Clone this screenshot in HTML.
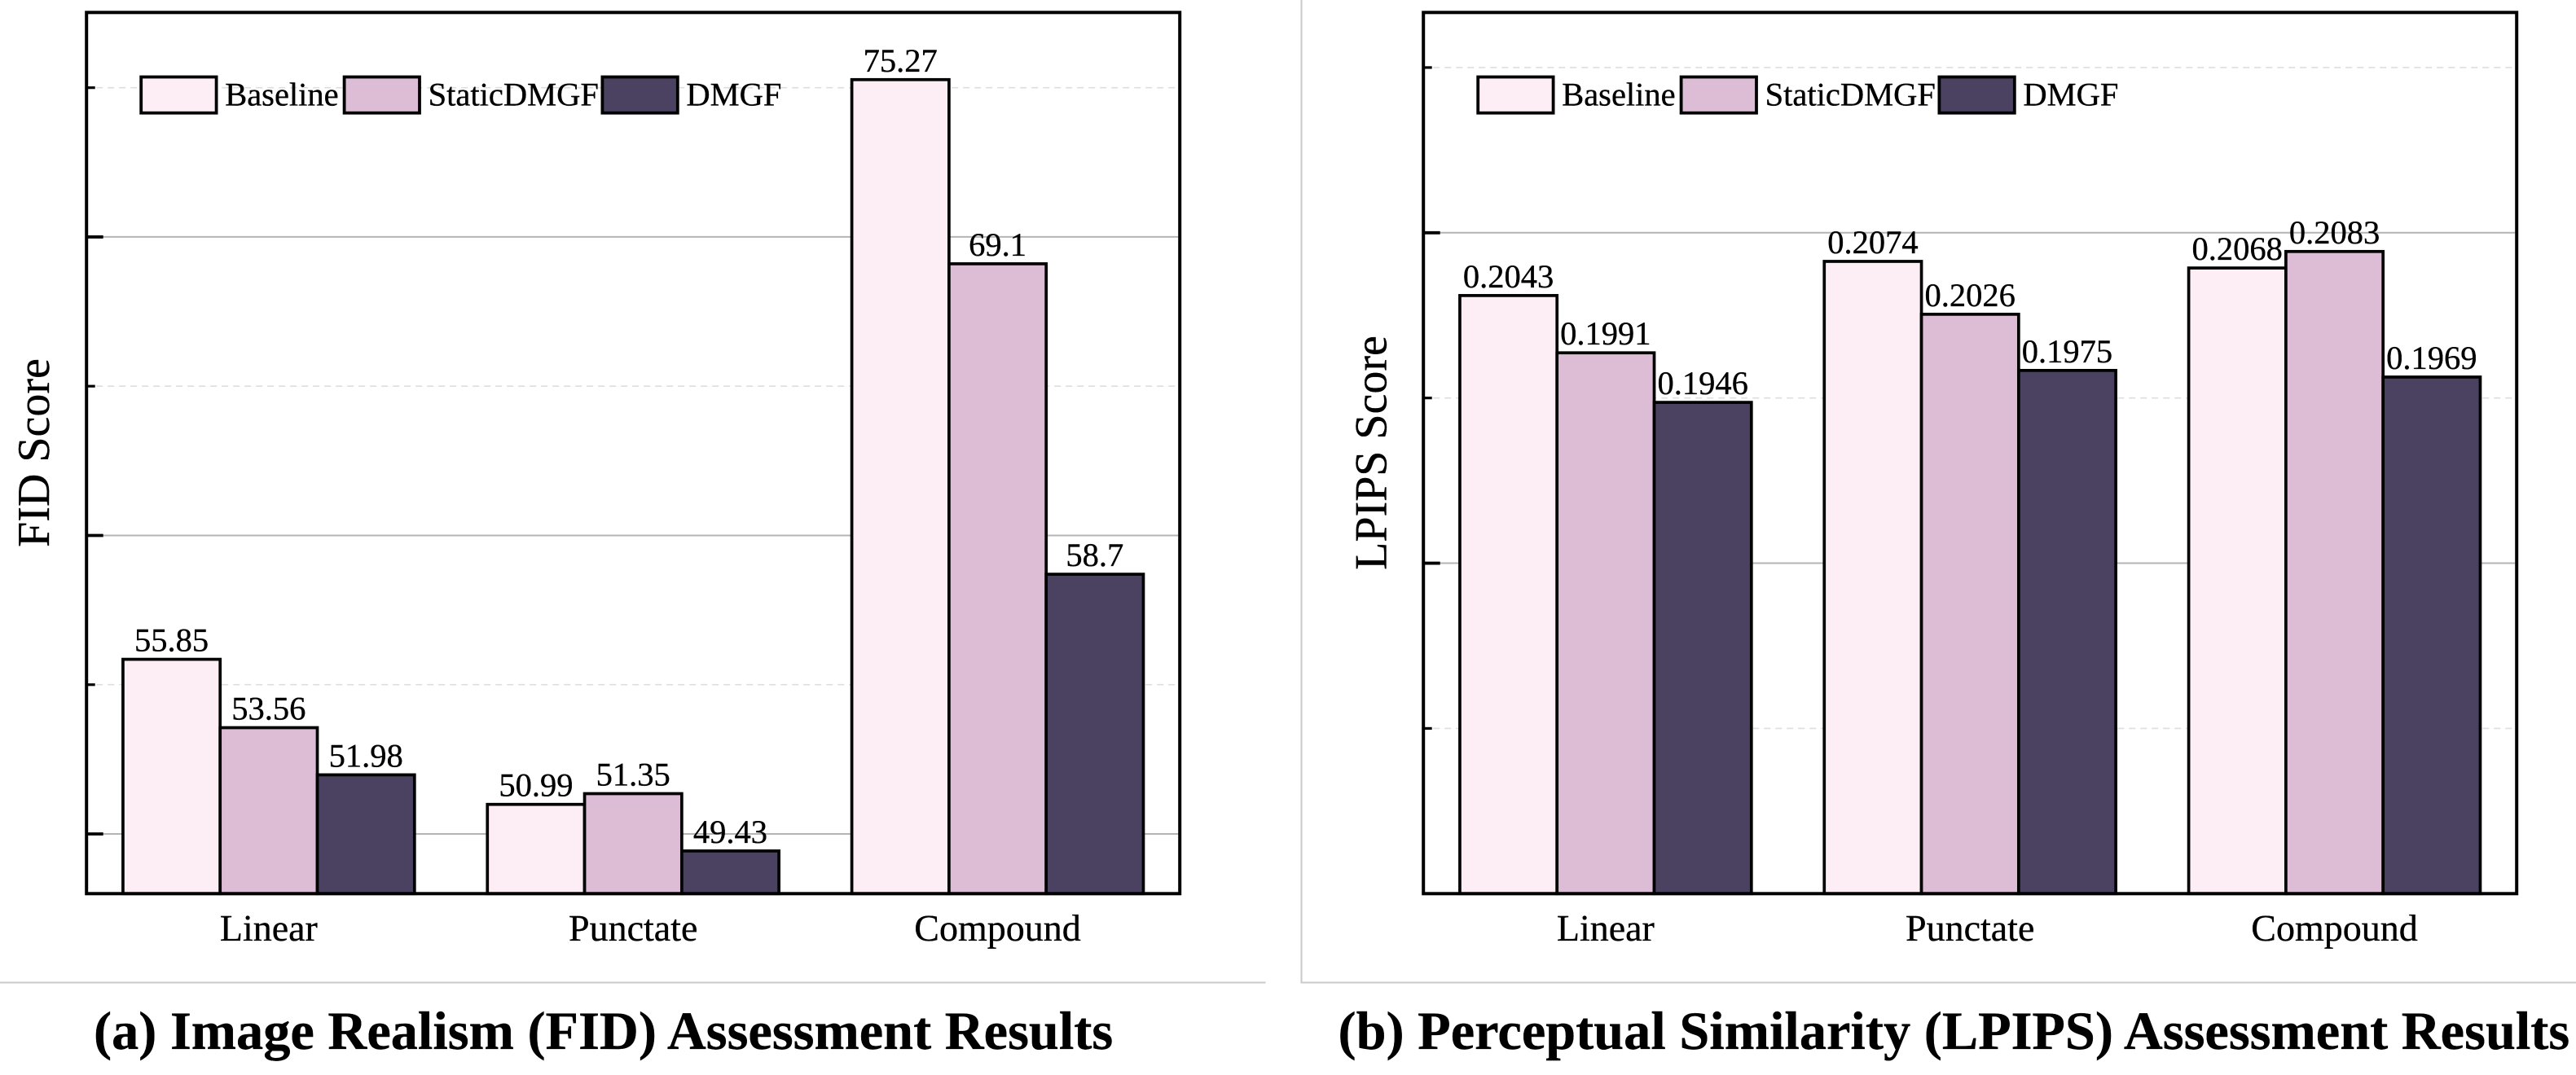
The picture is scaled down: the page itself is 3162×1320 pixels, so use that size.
<!DOCTYPE html>
<html lang="en">
<head>
<meta charset="utf-8">
<title>FID and LPIPS Assessment Results</title>
<style>
html,body{margin:0;padding:0;background:#fff;width:3162px;height:1320px;overflow:hidden}
svg{display:block}
text{font-family:"Liberation Serif",serif;fill:#000;stroke:#000;stroke-width:.35px;text-rendering:geometricPrecision}
.fig-title{font-size:66.35px;font-weight:bold}
.axis-title{font-size:56px}
</style>
</head>
<body>
<svg id="figure" xmlns="http://www.w3.org/2000/svg" width="3162" height="1320" viewBox="0 0 3162 1320">
  <rect x="0" y="0" width="3162" height="1320" fill="#fff"/>
  <line x1="0" y1="1206.5" x2="1553.5" y2="1206.5" stroke="#c9c9c9" stroke-width="2"/>
  <path d="M1597.5 0V1206.5H3162" fill="none" stroke="#c9c9c9" stroke-width="2"/>
  <g id="panel-a"></g>
  <g id="panel-b"></g>
  <text class="axis-title" transform="translate(60 556) rotate(-90)" text-anchor="middle">FID Score</text>
  <text class="axis-title" transform="translate(1701.5 556) rotate(-90)" text-anchor="middle">LPIPS Score</text>
  <text class="fig-title" x="115" y="1288">(a) Image Realism (FID) Assessment Results</text>
  <text class="fig-title" x="1642.5" y="1288">(b) Perceptual Similarity (LPIPS) Assessment Results</text>
</svg>
<script>
const categories = ['Linear', 'Punctate', 'Compound'];
const seriesNames = ['Baseline', 'StaticDMGF', 'DMGF'];

const fidBaseline = [55.85, 50.99, 75.27];
const fidStatic = [53.56, 51.35, 69.1];
const fidDmgf = [51.98, 49.43, 58.7];
const fidMajorTicks = [50, 60, 70];
const fidMinorTicks = [55, 65, 75];
const fidDomain = [48, 77.52];

const lpipsBaseline = [0.2043, 0.2074, 0.2068];
const lpipsStatic = [0.1991, 0.2026, 0.2083];
const lpipsDmgf = [0.1946, 0.1975, 0.1969];
const lpipsMajorTicks = [0.18, 0.21];
const lpipsMinorTicks = [0.165, 0.195, 0.225];
const lpipsDomain = [0.15, 0.23];

const seriesColors = ['#fdeef5', '#ddbdd5', '#4b4261'];
const NS = 'http://www.w3.org/2000/svg';

function make(parent, tag, attrs, text) {
  const el = document.createElementNS(NS, tag);
  for (const k in attrs) el.setAttribute(k, attrs[k]);
  if (text !== undefined) el.textContent = text;
  parent.appendChild(el);
  return el;
}

function drawPanel(group, prefix, left, series, majorTicks, minorTicks, domain) {
  const top = 15.3, bottom = 1097.3, width = 1342, right = left + width;
  const xOf = function (i) { return left + (i + 0.5) * width / categories.length; };
  const yOf = function (v) { return bottom - (v - domain[0]) / (domain[1] - domain[0]) * (bottom - top); };
  const barW = 0.8 / seriesNames.length * width / categories.length;

  minorTicks.forEach(function (t) {
    const y = yOf(t);
    const grid = make(group, 'line', {x1: left + 12, y1: y, x2: right - 4, y2: y, stroke: '#dedede', 'stroke-width': 1.6, 'stroke-dasharray': '8 6'});
    
    
  });
  majorTicks.forEach(function (t) {
    const y = yOf(t);
    const grid = make(group, 'line', {x1: left, y1: y, x2: right - 2, y2: y, stroke: '#b4b4b4', 'stroke-width': 2});
    
    
  });

  series.forEach(function (values, s) {
    values.forEach(function (v, i) {
      const x = xOf(i) + (s - 1.5) * barW;
      const y = yOf(v);
      const bar = make(group, 'rect', {x: x, y: y, width: barW, height: bottom - y, fill: seriesColors[s], stroke: '#000', 'stroke-width': 3.7});
      
      
    });
  });
  series.forEach(function (values, s) {
    values.forEach(function (v, i) {
      const x = xOf(i) + (s - 1) * barW;
      const label = make(group, 'text', {x: x, y: yOf(v) - 10, 'text-anchor': 'middle', 'font-size': 40.5}, String(v));
      
      
    });
  });

  categories.forEach(function (c, i) {
    const label = make(group, 'text', {x: xOf(i), y: 1155, 'text-anchor': 'middle', 'font-size': 46}, c);
    
    
  });

  const legendOffsets = [67, 316.4, 633.2];
  seriesNames.forEach(function (name, s) {
    const swatch = make(group, 'rect', {x: left + legendOffsets[s], y: 94.5, width: 92.4, height: 44.2, fill: seriesColors[s], stroke: '#000', 'stroke-width': 3.8});
    
    
    const label = make(group, 'text', {x: left + legendOffsets[s] + 103, y: 129.5, 'font-size': 40.5}, name);
    
    
  });

  majorTicks.forEach(function (t) {
    const y = yOf(t);
    const tick = make(group, 'line', {x1: left, y1: y, x2: left + 20.5, y2: y, stroke: '#000', 'stroke-width': 3.8});
    
    
  });
  minorTicks.forEach(function (t) {
    const y = yOf(t);
    const tick = make(group, 'line', {x1: left, y1: y, x2: left + 10.5, y2: y, stroke: '#000', 'stroke-width': 3.2});
    
    
  });

  const frame = make(group, 'rect', {x: left, y: top, width: width, height: bottom - top, fill: 'none', stroke: '#000', 'stroke-width': 4});
  
  
}

drawPanel(document.getElementById('panel-a'), 'fid', 106.2, [fidBaseline, fidStatic, fidDmgf], fidMajorTicks, fidMinorTicks, fidDomain);
drawPanel(document.getElementById('panel-b'), 'lpips', 1747.2, [lpipsBaseline, lpipsStatic, lpipsDmgf], lpipsMajorTicks, lpipsMinorTicks, lpipsDomain);
</script>
</body>
</html>
